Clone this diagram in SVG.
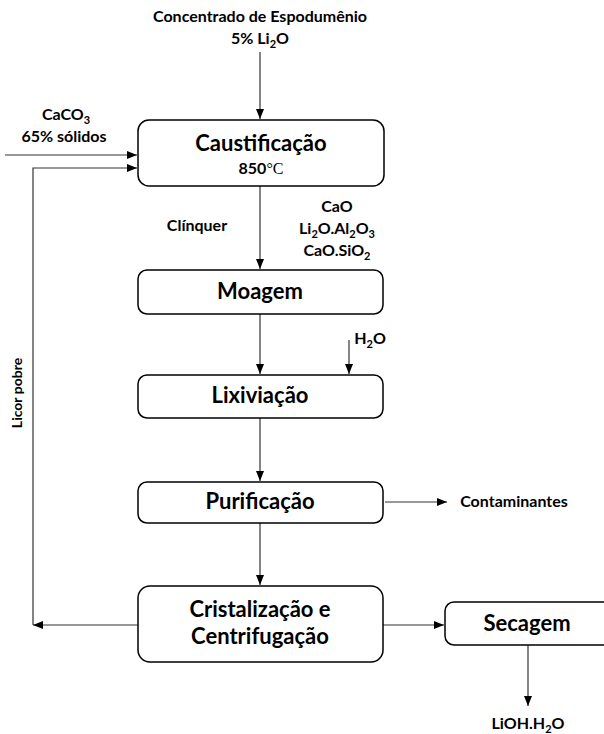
<svg xmlns="http://www.w3.org/2000/svg" width="604" height="734" viewBox="0 0 604 734">
<style>
.box{fill:#fff;stroke:#000;stroke-width:1.5}
.t{font-family:Lato,"Open Sans","Liberation Sans",sans-serif;font-weight:bold;fill:#000;text-anchor:middle}
.big{font-size:22px}
.sm{font-size:16px}
.sub{font-size:11px}
.ln{fill:none;stroke:#333;stroke-width:1.2}
</style>
<defs>
<marker id="ah" markerWidth="10" markerHeight="8" refX="10" refY="4" orient="auto" markerUnits="userSpaceOnUse">
<path d="M0,0 L10,4 L0,8 Z" fill="#000"/>
</marker>
</defs>
<rect width="604" height="734" fill="#fff"/>
<g id="connectors">
<line class="ln" x1="260" y1="52" x2="260" y2="119" marker-end="url(#ah)"/>
<line class="ln" x1="5" y1="155" x2="137" y2="155" marker-end="url(#ah)"/>
<polyline class="ln" points="33,625 33,168 137,168" marker-end="url(#ah)"/>
<line class="ln" x1="138" y1="625" x2="33" y2="625" marker-end="url(#ah)"/>
<line class="ln" x1="260" y1="186" x2="260" y2="269" marker-end="url(#ah)"/>
<line class="ln" x1="260" y1="314" x2="260" y2="374" marker-end="url(#ah)"/>
<line class="ln" x1="349" y1="340" x2="349" y2="374" marker-end="url(#ah)"/>
<line class="ln" x1="260" y1="418" x2="260" y2="481" marker-end="url(#ah)"/>
<line class="ln" x1="385" y1="502" x2="447" y2="502" marker-end="url(#ah)"/>
<line class="ln" x1="260" y1="523" x2="260" y2="585" marker-end="url(#ah)"/>
<line class="ln" x1="383" y1="625" x2="444" y2="625" marker-end="url(#ah)"/>
<line class="ln" x1="528" y1="645" x2="528" y2="706" marker-end="url(#ah)"/>
</g>
<g id="labels">
<text class="t sm" x="260" y="22">Concentrado de Espodumênio</text>
<text class="t sm" x="260" y="44">5% Li<tspan class="sub" dy="4">2</tspan><tspan dy="-4">O</tspan></text>
<text class="t sm" x="66" y="120">CaCO<tspan class="sub" dy="4">3</tspan></text>
<text class="t sm" x="64" y="142">65% sólidos</text>
<text class="t sm" x="197" y="231">Clínquer</text>
<text class="t sm" x="337" y="212">CaO</text>
<text class="t sm" x="337" y="234">Li<tspan class="sub" dy="4">2</tspan><tspan dy="-4">O.Al</tspan><tspan class="sub" dy="4">2</tspan><tspan dy="-4">O</tspan><tspan class="sub" dy="4">3</tspan></text>
<text class="t sm" x="337" y="256">CaO.SiO<tspan class="sub" dy="4">2</tspan></text>
<text class="t sm" x="370" y="344">H<tspan class="sub" dy="4">2</tspan><tspan dy="-4">O</tspan></text>
<text class="t" font-size="14" x="0" y="0" transform="translate(22,393) rotate(-90)">Licor pobre</text>
<text class="t sm" x="514" y="507">Contaminantes</text>
<text class="t sm" x="528" y="729">LiOH.H<tspan class="sub" dy="4">2</tspan><tspan dy="-4">O</tspan></text>
</g>
<g id="caustificacao">
<rect class="box" x="138" y="120" width="246" height="66" rx="11"/>
<text class="t big" x="261" y="151">Caustificação</text>
<text class="t" x="261" y="174" font-size="16">850<tspan font-family="'Liberation Serif',serif" font-weight="normal">°C</tspan></text>
</g>
<g id="moagem">
<rect class="box" x="138" y="270" width="245" height="44" rx="9"/>
<text class="t big" x="260" y="299">Moagem</text>
</g>
<g id="lixiviacao">
<rect class="box" x="138" y="375" width="245" height="43" rx="9"/>
<text class="t big" x="260" y="403">Lixiviação</text>
</g>
<g id="purificacao">
<rect class="box" x="138" y="482" width="245" height="41" rx="9"/>
<text class="t big" x="260" y="509">Purificação</text>
</g>
<g id="cristalizacao">
<rect class="box" x="138" y="586" width="245" height="76" rx="12"/>
<text class="t big" x="260" y="617">Cristalização e</text>
<text class="t big" x="260" y="644">Centrifugação</text>
</g>
<g id="secagem">
<rect class="box" x="445" y="602" width="170" height="43" rx="9"/>
<text class="t big" x="527" y="631">Secagem</text>
</g>
</svg>
